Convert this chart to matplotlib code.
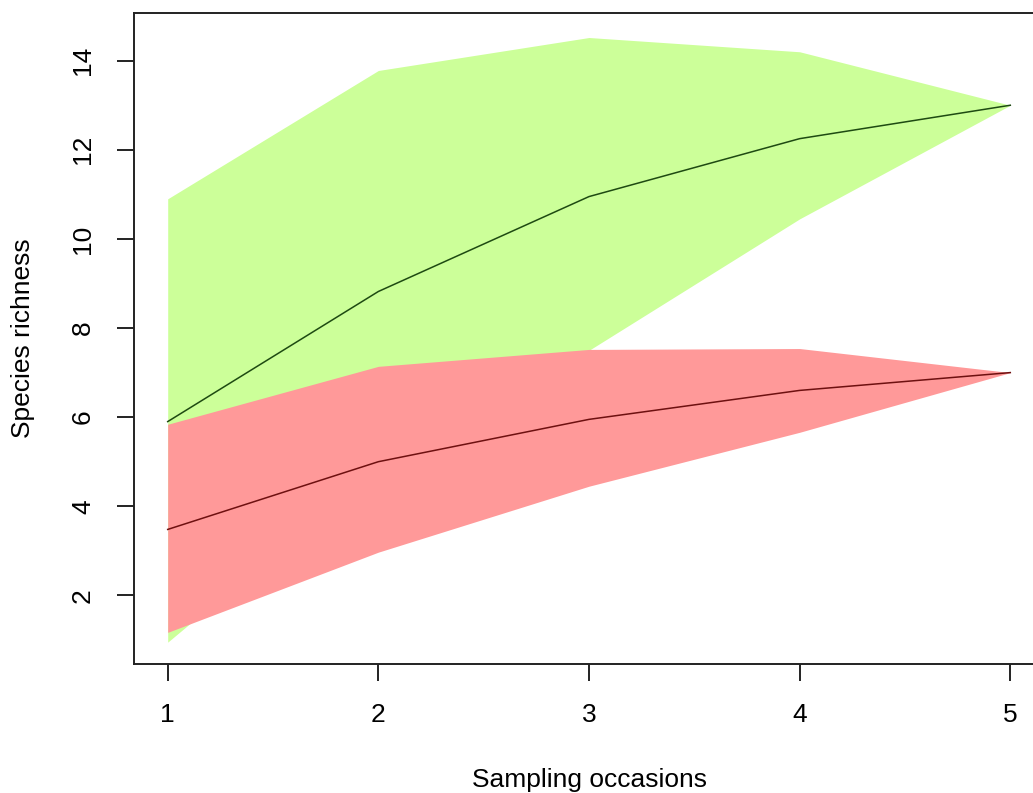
import matplotlib.pyplot as plt

# ── dati ───────────────────────────────────────────────────────
occasions = [1, 2, 3, 4, 5]

green_upper = [10.9, 13.78, 14.52, 14.2, 13.0]
green_mean  = [5.9, 8.82, 10.95, 12.25, 13.0]
green_lower = [0.95, 4.9, 7.5, 10.45, 13.0]

red_upper = [5.84, 7.14, 7.52, 7.54, 7.0]
red_mean  = [3.48, 5.0, 5.95, 6.6, 7.0]
red_lower = [1.17, 2.97, 4.45, 5.66, 7.0]

x_ticks = [1, 2, 3, 4, 5]
y_ticks = [2, 4, 6, 8, 10, 12, 14]
# ─────────────────────────────────────────────────────────────

plt.rcParams['font.family'] = ['Liberation Sans', 'DejaVu Sans']

W, H = 1033, 793
fig = plt.figure(figsize=(W / 100, H / 100), dpi=100)
ax = fig.add_axes([134 / W, (H - 664) / H, 910 / W, 651 / H])

ax.fill_between(occasions, green_lower, green_upper, color='#ccff99', lw=0)
ax.plot(occasions, green_mean, color='#1e4a12', lw=1.1)
ax.fill_between(occasions, red_lower, red_upper, color='#ff9999', lw=0)
ax.plot(occasions, red_mean, color='#6e1010', lw=1.1)

ax.set_xlim(0.84, 5.16)
ax.set_ylim(0.46, 15.07)
ax.set_xticks(x_ticks)
ax.set_yticks(y_ticks)

for s in ax.spines.values():
    s.set_linewidth(1.4)
    s.set_color('#222222')
ax.spines['right'].set_visible(False)

ax.tick_params(axis='both', length=12, width=1.4, color='#222222',
               labelsize=19, pad=16)
for lab in ax.get_yticklabels():
    lab.set_rotation(90)
    lab.set_va('center')

ax.set_xlabel('Sampling occasions', fontsize=19)
ax.set_ylabel('Species richness', fontsize=19)
ax.xaxis.set_label_coords(0.5, -0.16)
ax.yaxis.set_label_coords(-0.109, 0.5)

plt.savefig('out.png', dpi=100)
